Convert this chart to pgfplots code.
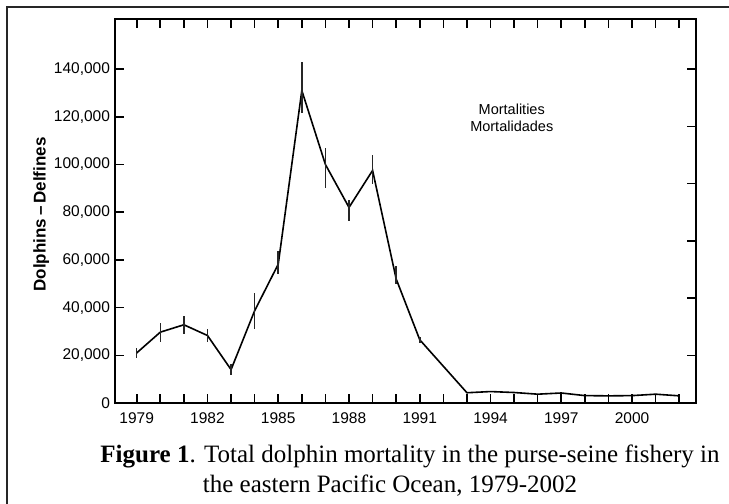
\documentclass[border=0pt]{standalone}
\usepackage{fontspec}
\setmainfont{Liberation Sans}
\newfontfamily\serifcap{Liberation Serif}
\usepackage{pgfplots}
\pgfplotsset{compat=1.18}
\pgfplotstableread{
yr val ep em
1979 21000 2000 2000
1980 29700 4000 4000
1981 32800 3800 3800
1982 28300 2900 2900
1983 14000 2300 2300
1984 38700 7600 7600
1985 58200 5500 4000
1986 131000 12000 9500
1987 100000 7000 10000
1988 82000 3000 5500
1989 97500 6500 5500
1990 52000 5500 2000
1991 26500 1200 1200
1992 15400 0 0
1993 4300 0 0
1994 4800 0 0
1995 4400 0 0
1996 3700 0 0
1997 4200 0 0
1998 3100 0 0
1999 3000 0 0
2000 3100 0 0
2001 3700 0 0
2002 3000 0 0
}\mortdata
\begin{document}
\begin{tikzpicture}
\useasboundingbox (0,0) rectangle (729bp,-504bp);
\draw[line width=2bp, black!85] (6.5bp,-504bp) -- (6.5bp,-6.7bp) -- (729bp,-6.7bp);
\begin{axis}[
  at={(115bp,-403bp)}, anchor=south west,
  scale only axis, width=581bp, height=384bp,
  xmin=1978.08, xmax=2002.71, ymin=0, ymax=161000,
  xtick={1979,...,2002},
  xticklabels={1979,,,1982,,,1985,,,1988,,,1991,,,1994,,,1997,,,2000,,},
  ytick={0,20000,...,140000},
  ytick pos=left,
  tick align=inside,
  major tick length=9bp,
  every tick/.style={black, line width=1.6bp},
  axis line style={line width=1.8bp},
  scaled y ticks=false,
  /pgf/number format/assume math mode=true,
  tick label style={font=\fontsize{15.5bp}{17bp}\selectfont},
  yticklabel style={/pgf/number format/fixed, /pgf/number format/1000 sep={,}, xshift=-1.5bp, font=\fontsize{15.5bp}{17bp}\selectfont},
  xticklabel style={yshift=-6bp, font=\fontsize{15.5bp}{17bp}\selectfont},
  ylabel={Dolphins\,–\,Delfines},
  ylabel style={at={(axis description cs:-0.127,0.491)}, anchor=center, font=\fontsize{17bp}{19bp}\selectfont\bfseries},
  clip=false,
]
\addplot[black, line width=1.6bp, mark=none,
  error bars/.cd, y dir=both, y explicit, error mark=none,
  error bar style={line width=1.5bp, black!85}]
  table[x=yr, y=val, y error plus=ep, y error minus=em] {\mortdata};
\node[align=center, font=\fontsize{14.5bp}{16.5bp}\selectfont] at (axis cs:1994.9,119500) {Mortalities\\Mortalidades};
\end{axis}
\begin{axis}[
  at={(115bp,-403bp)}, anchor=south west,
  scale only axis, width=581bp, height=384bp,
  xmin=1978.08, xmax=2002.71, ymin=0, ymax=161000,
  hide x axis, axis y line*=right,
  scaled y ticks=false,
  ytick={20000,44000,...,140000}, yticklabels={},
  tick align=inside, major tick length=9bp,
  every tick/.style={black, line width=1.6bp},
  axis line style={line width=1.8bp},
]
\end{axis}
\node[anchor=base, font=\serifcap\fontsize{25bp}{29bp}\selectfont] at (410bp,-462bp) {\textbf{Figure 1}. Total dolphin mortality in the purse-seine fishery in};
\node[anchor=base, font=\serifcap\fontsize{25bp}{29bp}\selectfont] at (390bp,-492bp) {the eastern Pacific Ocean, 1979-2002};
\end{tikzpicture}
\end{document}
